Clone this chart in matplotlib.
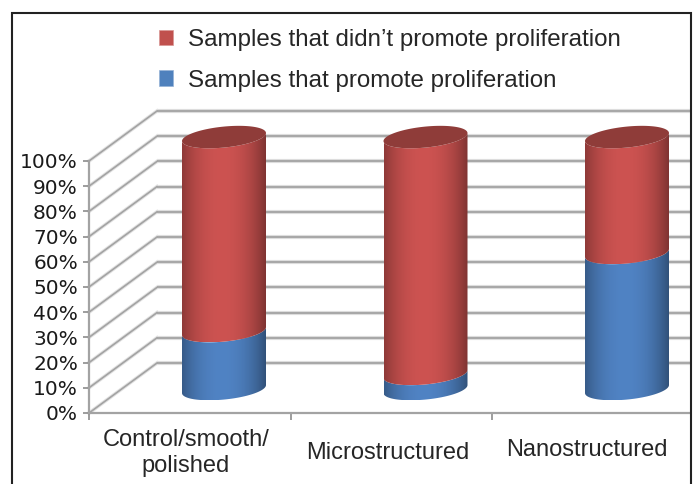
import numpy as np
import matplotlib
matplotlib.use("Agg")
import matplotlib.pyplot as plt
from matplotlib.patches import Patch, Rectangle
from matplotlib.path import Path

categories = ["Control/smooth/\npolished", "Microstructured", "Nanostructured"]
promote = [23, 6, 54]
no_promote = [77, 94, 46]
y_ticks = [0, 10, 20, 30, 40, 50, 60, 70, 80, 90, 100]
legend_labels = ["Samples that didn\u2019t promote proliferation", "Samples that promote proliferation"]

W, H = 693, 484
# plot box in pixels (measured from the top left of the picture)
left_px, right_px, top_px, bottom_px = 89, 690, 161, 413
bar_px, step_px = 224, 201.5

x_per_px = 1 / step_px
y_per_px = 100 / (bottom_px - top_px)

# floor depth of the fake 3d box, and the cylinder shape
depth_x, depth_y = 68 * x_per_px, 50 * y_per_px
rx, ry = 42 * x_per_px, 10.5 * y_per_px
shear = 4 * y_per_px
base = 9.5

RED, RED_TOP = np.array([205, 83, 81]), "#8f3c39"
BLUE = np.array([80, 131, 196])
LINE = "#a3a3a3"


def front_arc(cx, y, n=60):
    # lower half of the tilted ellipse, left to right
    t = np.linspace(np.pi, 2 * np.pi, n)
    return cx + rx * np.cos(t), y + ry * np.sin(t) + shear * np.cos(t)


def ellipse(cx, y, n=120):
    t = np.linspace(0, 2 * np.pi, n)
    return cx + rx * np.cos(t), y + ry * np.sin(t) + shear * np.cos(t)


def draw_segment(ax, cx, low, high, color):
    x0, y0 = front_arc(cx, base + low)
    x1, y1 = front_arc(cx, base + high)
    verts = np.vstack([np.c_[x0, y0], np.c_[x1, y1][::-1], [[x0[0], y0[0]]]])
    # left to right shading, darker towards both edges
    t = np.linspace(-1, 1, 200)
    shade = 1 - 0.34 * np.abs(t + 0.05) ** 2.2
    img = (color[None, :] * shade[:, None]).astype(np.uint8)[None, :, :]
    im = ax.imshow(img, extent=[cx - rx, cx + rx, verts[:, 1].min(), verts[:, 1].max()],
                   aspect="auto", zorder=3, interpolation="bilinear")
    im.set_clip_path(Path(verts), ax.transData)
    im.set_clip_box(ax.figure.bbox)


fig = plt.figure(figsize=(W / 100, H / 100), dpi=100)
ax = fig.add_axes([left_px / W, 1 - bottom_px / H, (right_px - left_px) / W, (bottom_px - top_px) / H])
ax.patch.set_alpha(0)

x_min = (left_px - bar_px) * x_per_px
x_max = (right_px - bar_px) * x_per_px

# back wall and left wall lines, each with a soft pale edge
for v in y_ticks:
    back = v + depth_y
    ax.plot([x_min + depth_x, x_max], [back, back], color="#dddddd", lw=3, zorder=1,
            clip_on=False, solid_capstyle="butt")
    ax.plot([x_min + depth_x, x_max], [back, back], color=LINE, lw=1.3, zorder=1.1,
            clip_on=False, solid_capstyle="butt")
    ax.plot([x_min, x_min + depth_x], [v, back], color="#e2e2e2", lw=2.6, zorder=1, clip_on=False)
    ax.plot([x_min, x_min + depth_x], [v, back], color=LINE, lw=1.2, zorder=1.1, clip_on=False)

# stacked cylinders
for i, (p, n) in enumerate(zip(promote, no_promote)):
    draw_segment(ax, i, 0, p, BLUE)
    draw_segment(ax, i, p, p + n, RED)
    ex, ey = ellipse(i, base + p + n)
    ax.fill(ex, ey, color=RED_TOP, lw=0, zorder=3.5, clip_on=False)

ax.set_xlim(x_min, x_max)
ax.set_ylim(0, 100)

ax.spines["top"].set_visible(False)
ax.spines["right"].set_visible(False)
for side in ["left", "bottom"]:
    ax.spines[side].set_color(LINE)
    ax.spines[side].set_linewidth(1.6)

ax.set_yticks(y_ticks)
ax.set_yticklabels([f"{v}%" for v in y_ticks], fontsize=14.5, family="DejaVu Sans", color="#1a1a1a")
ax.set_xticks([x_min + k * step_px * x_per_px for k in range(3)])
ax.set_xticklabels([])
ax.tick_params(axis="both", color="#8c8c8c", width=1.2, length=5, pad=3)
ax.tick_params(axis="y", length=4, pad=4)

# category labels sit at uneven heights in the original
label_x = [186, 388, 587]
label_y = [453, 453, 450]
for name, lx, ly in zip(categories, label_x, label_y):
    fig.text(lx / W, 1 - ly / H, name, ha="center", va="center", fontsize=17,
             family="Liberation Sans", color="#262626", linespacing=1.2)

handles = [Patch(facecolor="#c0504d", edgecolor="#d99694", lw=0.5),
           Patch(facecolor="#4f81bd", edgecolor="#95b3d7", lw=0.5)]
fig.legend(handles, legend_labels, loc="upper left", bbox_to_anchor=(137 / W, 1 - 7 / H),
           frameon=False, prop={"family": "Liberation Sans", "size": 17.4}, labelcolor="#262626",
           handlelength=0.6, handleheight=0.6, handletextpad=0.62, labelspacing=0.78)

# outer frame, its bottom edge is cut off by the picture
fig.add_artist(Rectangle((12 / W, -0.05), 679 / W, 1.05 - 13 / H, transform=fig.transFigure,
                         fill=False, edgecolor="#222222", lw=1.5))

fig.savefig("out.png", dpi=100)
